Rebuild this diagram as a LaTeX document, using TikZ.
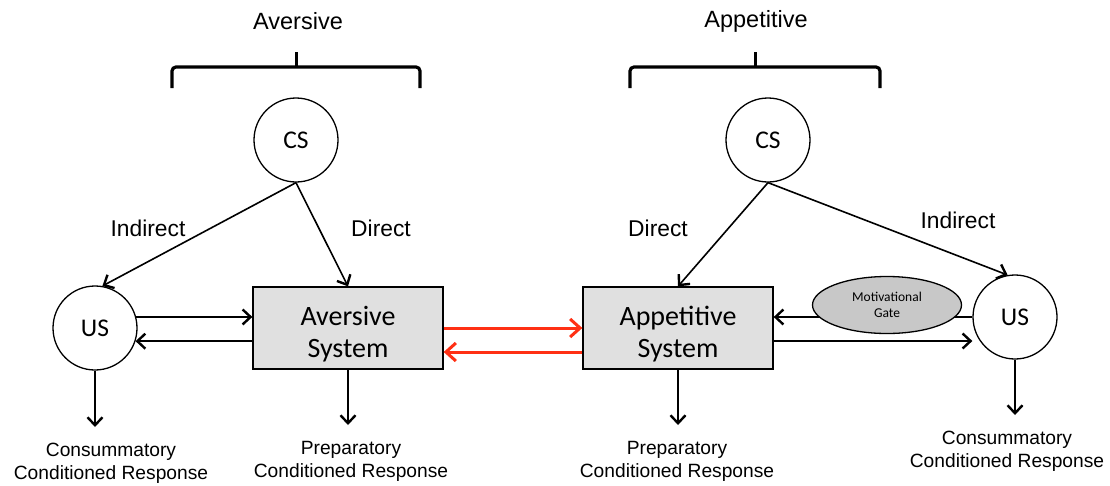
\documentclass[tikz,border=0pt]{standalone}
\usepackage{fontspec}
\setmainfont{Liberation Sans}
\newfontfamily\gillfont{Carlito}
\usetikzlibrary{arrows.meta,shapes.geometric}
\definecolor{sysgray}{RGB}{224,224,224}
\definecolor{gategray}{RGB}{200,200,200}
\definecolor{linkred}{RGB}{255,48,20}
\newcommand\boxstrut{\rule{0pt}{32pt}}
\tikzset{
  stim/.style={circle,draw,line width=1.3pt,fill=white,minimum size=84pt,inner sep=0pt,
    font=\gillfont\fontsize{25.5}{28}\selectfont},
  sysbox/.style={rectangle,draw,line width=1.3pt,fill=sysgray,minimum width=190pt,minimum height=82pt,
    inner sep=0pt,align=center,font=\gillfont\fontsize{28}{32}\selectfont},
  gate/.style={ellipse,draw,line width=1.3pt,fill=gategray,minimum width=149pt,minimum height=57pt,
    inner sep=0pt,align=center,font=\gillfont\fontsize{13.5}{16}\selectfont},
  side/.style={font=\fontsize{23.5}{27}\selectfont},
  route/.style={font=\fontsize{22.8}{26}\selectfont},
  response/.style={align=center,inner xsep=0pt,inner ysep=16pt,anchor=north,
    font=\fontsize{19.2}{23}\selectfont},
  arr/.style={line width=1.6pt,-{Straight Barb[length=8pt,width=15pt,line width=2.4pt]}},
  redarr/.style={line width=3pt,draw=linkred,-{Straight Barb[length=10pt,width=18pt,line width=3pt]}},
  brace/.style={line width=3.2pt,rounded corners=4pt}
}
\begin{document}
\begin{tikzpicture}[x=1pt,y=-1pt]
\useasboundingbox (0,0) rectangle (1110,485);
% headings and braces
\node[side] (aversiveH) at (298,21) {Aversive};
\node[side] (appetitiveH) at (756,21) {Appetitive};
\foreach \l/\m/\r in {172/296/420,630/755/880}{
  \draw[brace] (\l,88) -- (\l,67) -- (\r,67) -- (\r,88);
  \draw[line width=3pt] (\m,68) -- (\m,52);
}
% stimuli and systems
\node[stim] (csL) at (296,140) {CS};
\node[stim] (csR) at (768,140) {CS};
\node[stim] (usL) at (95,328) {US};
\node[stim] (usR) at (1015,317) {US};
\node[sysbox] (avs) at (348,328) {\boxstrut Aversive\\System};
\node[sysbox] (app) at (678,328) {\boxstrut Appetitive\\System};
\node[route] (indL) at (148,228) {Indirect};
\node[route] (dirL) at (381,228) {Direct};
\node[route] (dirR) at (658,228) {Direct};
\node[route] (indR) at (958,220) {Indirect};
\node[response] (crL) at (111,427) {Consummatory\\Conditioned Response};
\node[response] (prL) at (351,425) {Preparatory\\Conditioned Response};
\node[response] (prR) at (677,425) {Preparatory\\Conditioned Response};
\node[response] (crR) at (1007,415) {Consummatory\\Conditioned Response};
% connectors
\draw[arr] (csL.south) -- (usL.80);
\draw[arr] (csL.south) -- (avs.north);
\draw[arr] (csR.south) -- (app.north);
\draw[arr] (csR.south) -- (usR.100);
\draw[arr] (usL.15) -- (usL.15 -| avs.west);
\draw[arr] (avs.west |- usL.-18) -- (usL.-18);
\draw[redarr] (avs.east) -- (avs.east -| app.west);
\draw[redarr] ([yshift=-24pt]app.west) -- ([yshift=-24pt]app.west -| avs.east);
\draw[arr] (usR.west) -- (usR.west -| app.east);
\node[gate] (gate) at (887,305) {Motivational\\Gate};
\draw[arr] ([yshift=-13pt]app.east) -- ([yshift=-13pt]app.east -| usR.west);
\draw[arr] (usL.south) -- (usL.south |- crL.north);
\draw[arr] (avs.south) -- (avs.south |- prL.north);
\draw[arr] (app.south) -- (app.south |- prR.north);
\draw[arr] (usR.south) -- (usR.south |- crR.north);
\end{tikzpicture}
\end{document}
